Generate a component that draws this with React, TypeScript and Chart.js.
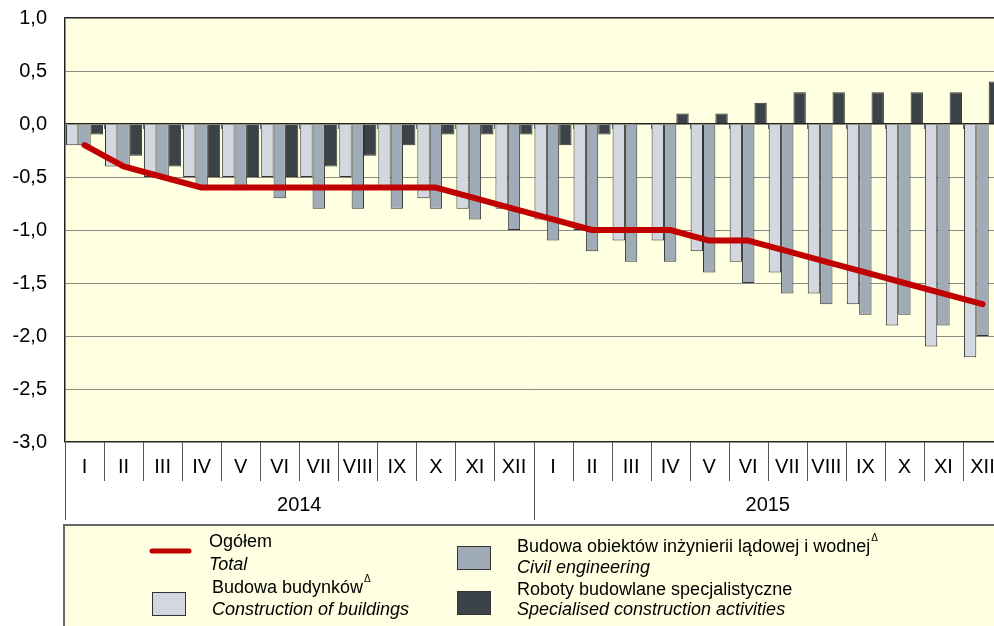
import React, { useEffect, useRef } from "react";
import { Chart, registerables } from "chart.js";

Chart.register(...registerables);

const months = ["I", "II", "III", "IV", "V", "VI", "VII", "VIII", "IX", "X", "XI", "XII"];
const years = ["2014", "2015"];
const categories = years.flatMap((y) => months.map((m) => `${m} ${y}`));

const buildings = [
  -0.2, -0.4, -0.5, -0.5, -0.5, -0.5, -0.5, -0.5, -0.6, -0.7, -0.8, -0.8,
  -0.9, -1.0, -1.1, -1.1, -1.2, -1.3, -1.4, -1.6, -1.7, -1.9, -2.1, -2.2,
];
const civil = [
  -0.2, -0.4, -0.5, -0.6, -0.6, -0.7, -0.8, -0.8, -0.8, -0.8, -0.9, -1.0,
  -1.1, -1.2, -1.3, -1.3, -1.4, -1.5, -1.6, -1.7, -1.8, -1.8, -1.9, -2.0,
];
const specialised = [
  -0.1, -0.3, -0.4, -0.5, -0.5, -0.5, -0.4, -0.3, -0.2, -0.1, -0.1, -0.1,
  -0.2, -0.1, 0, 0.1, 0.1, 0.2, 0.3, 0.3, 0.3, 0.3, 0.3, 0.4,
];
const total = [
  -0.2, -0.4, -0.5, -0.6, -0.6, -0.6, -0.6, -0.6, -0.6, -0.6, -0.7, -0.8,
  -0.9, -1.0, -1.0, -1.0, -1.1, -1.1, -1.2, -1.3, -1.4, -1.5, -1.6, -1.7,
];

const yMin = -3;
const yMax = 1;
const yStep = 0.5;

const COL_LIGHT = "#D3D8E0";
const COL_MED = "#9FACB7";
const COL_DARK = "#3B4248";
const COL_RED = "#C00000";
const BG = "#FFFFE1";
const FONT = "'Liberation Sans', Arial, sans-serif";

const W = 1002;
const H = 626;

const customPlugin = {
  id: "custom",
  beforeDraw(chart: any) {
    const { ctx, chartArea: a } = chart;
    ctx.save();
    ctx.fillStyle = BG;
    ctx.fillRect(a.left, a.top, a.right - a.left, a.bottom - a.top);
    ctx.restore();
  },
  beforeDatasetsDraw(chart: any) {
    const { ctx, chartArea: a } = chart;
    const y0 = chart.scales.y.getPixelForValue(0);
    const n = categories.length;
    const cw = (a.right - a.left) / n;
    ctx.save();
    ctx.strokeStyle = "#666";
    ctx.lineWidth = 1;
    for (let i = 1; i < n; i++) {
      const x = Math.round(a.left + i * cw) + 0.5;
      ctx.beginPath();
      ctx.moveTo(x, y0);
      ctx.lineTo(x, y0 + 5);
      ctx.stroke();
    }
    ctx.restore();
  },
  afterDraw(chart: any) {
    const { ctx, chartArea: a } = chart;
    const n = categories.length;
    const cw = (a.right - a.left) / n;
    ctx.save();
    // month dividers
    ctx.strokeStyle = "#555";
    ctx.lineWidth = 1;
    for (let i = 0; i <= n; i++) {
      const x = Math.round(a.left + i * cw) + 0.5;
      const isYear = i % months.length === 0;
      ctx.beginPath();
      ctx.moveTo(x, a.bottom);
      ctx.lineTo(x, isYear ? 520 : 481);
      ctx.stroke();
    }
    // month labels
    ctx.fillStyle = "#000";
    ctx.font = `20px ${FONT}`;
    ctx.textAlign = "center";
    ctx.textBaseline = "middle";
    for (let i = 0; i < n; i++) {
      const x = a.left + (i + 0.5) * cw;
      ctx.fillText(months[i % months.length], x, 467);
    }
    // year labels
    years.forEach((yr, k) => {
      const x = a.left + (k * months.length + months.length / 2) * cw;
      ctx.fillText(yr, x, 505);
    });

    // legend box
    ctx.fillStyle = BG;
    ctx.fillRect(64, 525, W, H);
    ctx.strokeStyle = "#666";
    ctx.lineWidth = 2;
    ctx.beginPath();
    ctx.moveTo(64, H + 2);
    ctx.lineTo(64, 525);
    ctx.lineTo(W + 2, 525);
    ctx.stroke();

    // legend markers
    ctx.strokeStyle = COL_RED;
    ctx.lineWidth = 5;
    ctx.lineCap = "round";
    ctx.beginPath();
    ctx.moveTo(152, 551);
    ctx.lineTo(189, 551);
    ctx.stroke();
    ctx.lineCap = "butt";

    const box = (x: number, y: number, c: string) => {
      ctx.fillStyle = c;
      ctx.fillRect(x, y, 33, 23);
      ctx.strokeStyle = "#333";
      ctx.lineWidth = 1;
      ctx.strokeRect(x + 0.5, y + 0.5, 33, 23);
    };
    box(152, 592, COL_LIGHT);
    box(457, 546, COL_MED);
    box(457, 591, COL_DARK);

    ctx.fillStyle = "#000";
    ctx.textAlign = "left";
    ctx.textBaseline = "middle";
    const txt = (s: string, x: number, y: number, italic = false, sup = false) => {
      ctx.font = `${italic ? "italic " : ""}18px ${FONT}`;
      ctx.fillText(s, x, y);
      if (sup) {
        const w = ctx.measureText(s).width;
        ctx.font = `10px ${FONT}`;
        ctx.fillText("\u0394", x + w + 1, y - 9);
      }
    };
    txt("Ogółem", 209, 542);
    txt("Total", 209, 565, true);
    txt("Budowa budynków", 212, 588, false, true);
    txt("Construction of buildings", 212, 610, true);
    txt("Budowa obiektów inżynierii lądowej i wodnej", 517, 547, false, true);
    txt("Civil engineering", 517, 568, true);
    txt("Roboty budowlane specjalistyczne", 517, 590);
    txt("Specialised construction activities", 517, 610, true);
    ctx.restore();
  },
};

export default function App() {
  const ref = useRef<HTMLCanvasElement | null>(null);
  useEffect(() => {
    if (!ref.current) return;
    const barCommon = {
      type: "bar" as const,
      borderColor: "#333",
      borderWidth: 1,
      categoryPercentage: 0.95,
      barPercentage: 1.0,
      order: 1,
    };
    const chart = new Chart(ref.current, {
      type: "bar",
      data: {
        labels: categories,
        datasets: [
          {
            type: "line" as const,
            label: "Ogółem",
            data: total,
            borderColor: COL_RED,
            borderWidth: 6,
            pointRadius: 0,
            borderCapStyle: "round",
            borderJoinStyle: "round",
            tension: 0,
            order: 0,
          } as any,
          { ...barCommon, label: "Budowa budynków", data: buildings, backgroundColor: COL_LIGHT },
          { ...barCommon, label: "Budowa obiektów inżynierii lądowej i wodnej", data: civil, backgroundColor: COL_MED },
          { ...barCommon, label: "Roboty budowlane specjalistyczne", data: specialised, backgroundColor: COL_DARK },
        ],
      },
      options: {
        responsive: false,
        animation: false,
        events: [],
        layout: { padding: { top: 18, bottom: H - 442, left: 0, right: 0 } },
        plugins: { legend: { display: false }, tooltip: { enabled: false } },
        scales: {
          x: { display: false, offset: true },
          y: {
            min: yMin,
            max: yMax,
            afterFit: (s: any) => {
              s.width = 65;
              s.paddingTop = 0;
              s.paddingBottom = 0;
            },
            ticks: {
              stepSize: yStep,
              padding: 18,
              color: "#000",
              font: { family: FONT, size: 20 },
              callback: (v: any) => Number(v).toFixed(1).replace(".", ","),
            },
            grid: {
              drawTicks: false,
              lineWidth: (c: any) => (c.tick && (c.tick.value === 0 || c.tick.value === yMax || c.tick.value === yMin) ? 1.5 : 1),
              color: (c: any) =>
                c.tick && (c.tick.value === 0 || c.tick.value === yMax || c.tick.value === yMin) ? "#222" : "#8c8c84",
            },
            border: { display: true, color: "#222", width: 1.5 },
          },
        },
      },
      plugins: [customPlugin],
    });
    return () => chart.destroy();
  }, []);
  return (
    <div
      style={{
        position: "fixed",
        left: 0,
        top: 0,
        width: 994,
        height: 626,
        overflow: "hidden",
        background: "#fff",
      }}
    >
      <canvas ref={ref} width={W} height={H} style={{ width: W, height: H, display: "block" }} />
    </div>
  );
}
